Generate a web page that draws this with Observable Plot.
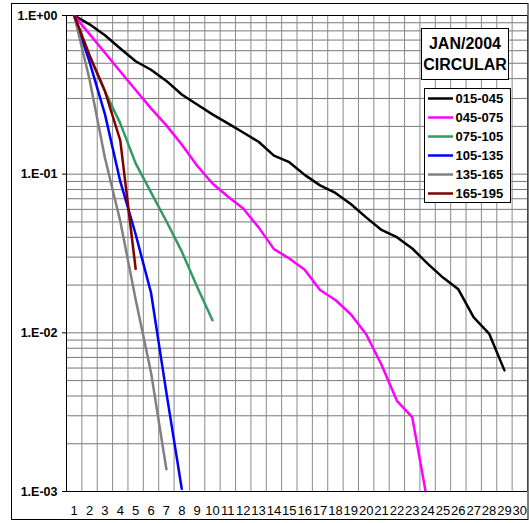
<!DOCTYPE html>
<html><head><meta charset="utf-8">
<script src="https://cdn.jsdelivr.net/npm/d3@7"></script>
<script src="https://cdn.jsdelivr.net/npm/@observablehq/plot@0.6"></script>
<style>
html,body{margin:0;padding:0;background:#fff;}
#chart{width:529px;height:523px;}
</style></head><body><div id="chart"></div>
<script>
const seriesNames = ["015-045","045-075","075-105","105-135","135-165","165-195"];
const seriesColors = ["#000000","#ff00ff","#339966","#0000ff","#808080","#800000"];
const s015_045 = [1.0,0.88,0.75,0.62,0.515,0.455,0.387,0.318,0.275,0.238,0.209,0.183,0.160,0.131,0.119,0.099,0.085,0.0762,0.0649,0.0534,0.0445,0.0401,0.034,0.0273,0.0223,0.0188,0.0125,0.0099,0.0058];
const s045_075 = [1.0,0.763,0.582,0.444,0.339,0.26,0.203,0.154,0.113,0.0873,0.0723,0.0607,0.0462,0.0337,0.0294,0.025,0.0186,0.0161,0.0131,0.0098,0.00629,0.00373,0.00294,0.00085];
const s075_105 = [1.0,0.56,0.333,0.209,0.117,0.0768,0.0505,0.0326,0.0195,0.012];
const s105_135 = [1.0,0.51,0.239,0.090,0.0418,0.0179,0.0042,0.00104];
const s135_165 = [1.0,0.395,0.127,0.0505,0.0162,0.00563,0.00138];
const s165_195 = [1.0,0.56,0.334,0.163,0.0253];
const xTicks = [1,2,3,4,5,6,7,8,9,10,11,12,13,14,15,16,17,18,19,20,21,22,23,24,25,26,27,28,29,30];
const yTickValues = [1,0.1,0.01,0.001];
const yTickLabels = ["1.E+00","1.E-01","1.E-02","1.E-03"];
const titleLines = ["JAN/2004","CIRCULAR"];

const allSeries = [s015_045,s045_075,s075_105,s105_135,s135_165,s165_195];
const data = allSeries.flatMap((vals,si)=>vals.map((v,i)=>({x:xTicks[i],y:v,series:seriesNames[si]})));

const minorY = [];
for (const e of [-3,-2,-1]) for (let k=1;k<=9;k++) minorY.push(k*Math.pow(10,e));
minorY.push(1);
const xGrid = xTicks.map(d=>d-0.5).concat([xTicks[xTicks.length-1]+0.5]);
const labelOf = new Map(yTickValues.map((v,i)=>[v,yTickLabels[i]]));

const plot = Plot.plot({
  width:529, height:523,
  marginLeft:66, marginRight:2, marginTop:15, marginBottom:32,
  style:{fontFamily:"'Liberation Sans', Arial, sans-serif", background:"#fff", color:"#000"},
  x:{domain:[0.5,30.5]},
  y:{type:"log", domain:[0.001,1]},
  color:{domain:seriesNames, range:seriesColors},
  marks:[
    Plot.ruleY(minorY,{stroke:"#777",strokeWidth:1,strokeOpacity:1}),
    Plot.ruleX(xGrid,{stroke:"#8a8a8a",strokeWidth:1,strokeOpacity:1}),
    Plot.axisY({ticks:yTickValues, tickFormat:d=>labelOf.get(d), tickSize:4, tickPadding:5, fontWeight:"bold", fontSize:12.5, label:null}),
    Plot.axisX({ticks:xTicks, tickSize:0, tickPadding:14, fontSize:13, label:null}),
    Plot.ruleX([0.5],{stroke:"#000"}),
    Plot.ruleY([0.001,1],{stroke:"#000"}),
    Plot.lineY(data,{x:"x",y:"y",z:"series",stroke:"series",strokeWidth:2.5,clip:true})
  ]
});
document.getElementById("chart").appendChild(plot);

const svg = d3.select(plot);
svg.append("rect").attr("x",11.5).attr("y",3.5).attr("width",516.5).attr("height",516)
  .attr("fill","none").attr("stroke","#000").attr("stroke-width",1);
const tg = svg.append("g").attr("font-family","'Liberation Sans', Arial, sans-serif");
tg.append("rect").attr("x",421.5).attr("y",28.5).attr("width",87).attr("height",51)
  .attr("fill","#fff").attr("stroke","#000");
titleLines.forEach((t,i)=>{
  tg.append("text").attr("x",465).attr("y",43.5+20.5*i).attr("text-anchor","middle")
    .attr("dominant-baseline","central").attr("font-weight","bold").attr("font-size",16).text(t);
});
const lg = svg.append("g").attr("font-family","'Liberation Sans', Arial, sans-serif");
lg.append("rect").attr("x",424.5).attr("y",88.5).attr("width",86).attr("height",114)
  .attr("fill","#fff").attr("stroke","#000");
seriesNames.forEach((n,i)=>{
  const yy = 98.5+19*i;
  lg.append("line").attr("x1",428).attr("x2",453).attr("y1",yy).attr("y2",yy)
    .attr("stroke",seriesColors[i]).attr("stroke-width",2.5);
  lg.append("text").attr("x",455.5).attr("y",yy).attr("text-anchor","start").attr("dominant-baseline","central")
    .attr("font-weight","bold").attr("font-size",13).text(n);
});
</script></body></html>
